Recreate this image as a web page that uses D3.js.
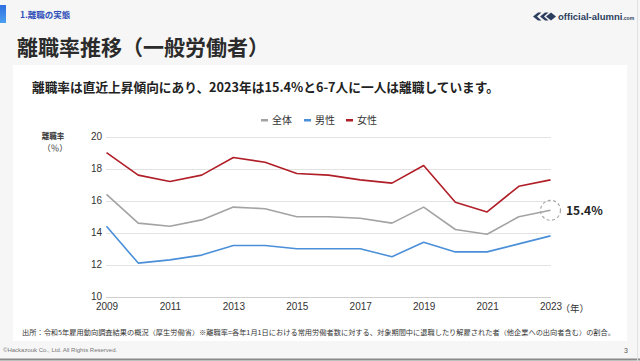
<!DOCTYPE html>
<html>
<head>
<meta charset="utf-8">
<script src="https://cdn.jsdelivr.net/npm/d3@7"></script>
<style>
body { margin: 0; background: #fff; }
svg { display: block; }
.jp { font-family: "Noto Sans CJK JP", "Noto Sans", sans-serif; }
.num { font-family: "Liberation Sans", Arial, sans-serif; }
</style>
</head>
<body>
<svg id="chart" width="640" height="361"></svg>
<script>
var years = [2009, 2010, 2011, 2012, 2013, 2014, 2015, 2016, 2017, 2018, 2019, 2020, 2021, 2022, 2023];
var zentai = [16.4, 14.6, 14.4, 14.8, 15.6, 15.5, 15.0, 15.0, 14.9, 14.6, 15.6, 14.2, 13.9, 15.0, 15.4];
var dansei = [14.4, 12.1, 12.3, 12.6, 13.2, 13.2, 13.0, 13.0, 13.0, 12.5, 13.4, 12.8, 12.8, 13.3, 13.8];
var josei = [19.0, 17.6, 17.2, 17.6, 18.7, 18.4, 17.7, 17.6, 17.3, 17.1, 18.2, 15.9, 15.3, 16.9, 17.3];
var yTicks = [10, 12, 14, 16, 18, 20];
var xTicks = [2009, 2011, 2013, 2015, 2017, 2019, 2021, 2023];

var series = [
    {name: "全体", values: zentai, color: "#a3a3a3"},
    {name: "男性", values: dansei, color: "#4a8fd8"},
    {name: "女性", values: josei, color: "#b01e28"}
];

var svg = d3.select("#chart");

// slide background + card
svg.append("rect").attr("width", 640).attr("height", 361).attr("fill", "#f6f6f6");
svg.append("rect").attr("x", 13).attr("y", 65).attr("width", 614).attr("height", 276).attr("fill", "#ffffff");
svg.append("line").attr("x1", 0).attr("x2", 640).attr("y1", 359.5).attr("y2", 359.5)
    .attr("stroke", "#8a8a8a").attr("stroke-width", 2);
svg.append("line").attr("x1", 637.5).attr("x2", 637.5).attr("y1", 0).attr("y2", 361)
    .attr("stroke", "#e2e2e2");

// header
var grad = svg.append("defs").append("linearGradient").attr("id", "bar").attr("x1", 0).attr("y1", 0).attr("x2", 0).attr("y2", 1);
grad.append("stop").attr("offset", "0%").attr("stop-color", "#2f6fe0");
grad.append("stop").attr("offset", "100%").attr("stop-color", "#4aa0f0");
svg.append("rect").attr("x", 0).attr("y", 5).attr("width", 6).attr("height", 18).attr("fill", "url(#bar)");

svg.append("text").attr("class", "jp").attr("x", 20).attr("y", 18)
    .attr("font-size", 8.5).attr("font-weight", "bold").attr("fill", "#2e4fb8")
    .text("1.離職の実態");

svg.append("text").attr("class", "jp").attr("x", 17).attr("y", 55)
    .attr("font-size", 21).attr("font-weight", "bold").attr("fill", "#2b2b2b")
    .text("離職率推移（一般労働者）");

// logo (two chevrons and a diamond)
var logo = svg.append("g").attr("fill", "#2c3e5e");
[533, 540].forEach(function(px) {
    logo.append("path").attr("d", "M" + (px + 5) + ",12.5 L" + px + ",16.5 L" + (px + 5) + ",20.5 L" + (px + 8.5) + ",20.5 L" + (px + 4) + ",16.5 L" + (px + 8.5) + ",12.5 Z");
});
logo.append("path").attr("d", "M546,16.5 L551,12.5 L556,16.5 L551,20.5 Z");
svg.append("text").attr("class", "num").attr("x", 558).attr("y", 20)
    .attr("font-size", 9.5).attr("font-weight", "bold").attr("fill", "#2c3e5e")
    .text("official-alumni")
    .append("tspan").attr("font-size", 5).text(".com");

// subtitle
svg.append("text").attr("class", "jp").attr("x", 32).attr("y", 92)
    .attr("font-size", 12.7).attr("font-weight", "bold").attr("fill", "#222")
    .text("離職率は直近上昇傾向にあり、2023年は15.4%と6-7人に一人は離職しています。");

// scales
var x = d3.scaleLinear().domain([2009, 2023]).range([106.5, 550.5]);
var y = d3.scaleLinear().domain([10, 20]).range([296.7, 136.7]);

// grid
svg.append("g").selectAll("line").data(yTicks).enter().append("line")
    .attr("x1", 106).attr("x2", 551)
    .attr("y1", function(d) { return Math.round(y(d)) + 0.5; })
    .attr("y2", function(d) { return Math.round(y(d)) + 0.5; })
    .attr("stroke", function(d) { return d == 10 ? "#cfcfcf" : "#e3e3e3"; })
    .attr("stroke-width", 1);

var yAxis = svg.append("g").attr("transform", "translate(102,0)")
    .call(d3.axisLeft(y).tickValues(yTicks).tickSize(0).tickPadding(0));
yAxis.select(".domain").remove();
yAxis.selectAll("text").attr("class", "num").attr("font-size", 10).attr("fill", "#333");

var xAxis = svg.append("g").attr("transform", "translate(0,300)")
    .call(d3.axisBottom(x).tickValues(xTicks).tickFormat(d3.format("d")).tickSize(0).tickPadding(3));
xAxis.select(".domain").remove();
xAxis.selectAll("text").attr("class", "num").attr("font-size", 10).attr("fill", "#333");

svg.append("text").attr("class", "jp").attr("x", x(2023) + 10).attr("y", 312)
    .attr("font-size", 9.5).attr("fill", "#333").text("（年）");

// y label
svg.append("text").attr("class", "jp").attr("x", 53).attr("y", 139)
    .attr("text-anchor", "middle").attr("font-size", 7.5).attr("font-weight", "bold").attr("fill", "#333")
    .text("離職率");
svg.append("text").attr("class", "jp").attr("x", 55).attr("y", 151)
    .attr("text-anchor", "middle").attr("font-size", 8.5).attr("fill", "#333")
    .text("（％）");

// lines
var line = d3.line()
    .x(function(d, i) { return x(years[i]); })
    .y(function(d) { return y(d); });

series.forEach(function(s) {
    svg.append("path")
        .datum(s.values)
        .attr("d", line)
        .attr("fill", "none")
        .attr("stroke", s.color)
        .attr("stroke-width", 1.6)
        .attr("stroke-linejoin", "round");
});

// callout on last value
var last = zentai[zentai.length - 1];
svg.append("circle").attr("cx", x(2023)).attr("cy", y(last)).attr("r", 10)
    .attr("fill", "none").attr("stroke", "#a8a8a8").attr("stroke-width", 1.2)
    .attr("stroke-dasharray", "3,2.5");
svg.append("text").attr("class", "jp").attr("x", 566).attr("y", y(last) + 4.5)
    .attr("font-size", 12).attr("font-weight", "bold").attr("fill", "#222")
    .text(last.toFixed(1) + "%");

// legend
var legendX = [261, 304, 346];
series.forEach(function(s, i) {
    svg.append("rect").attr("x", legendX[i]).attr("y", 119).attr("width", 7).attr("height", 2.5).attr("fill", s.color);
    svg.append("text").attr("class", "jp").attr("x", legendX[i] + 11).attr("y", 124)
        .attr("font-size", 10).attr("fill", "#333").text(s.name);
});

// source + footer
svg.append("text").attr("class", "jp").attr("x", 22).attr("y", 335)
    .attr("font-size", 6.7).attr("fill", "#333")
    .attr("textLength", 593).attr("lengthAdjust", "spacingAndGlyphs")
    .text("出所：令和5年雇用動向調査結果の概況（厚生労働省）※離職率=各年1月1日における常用労働者数に対する、対象期間中に退職したり解雇された者（他企業への出向者含む）の割合。");

svg.append("text").attr("class", "num").attr("x", 3).attr("y", 352)
    .attr("font-size", 6).attr("fill", "#777")
    .text("©Hackazouk Co., Ltd. All Rights Reserved.");
svg.append("text").attr("class", "num").attr("x", 624).attr("y", 353)
    .attr("font-size", 7).attr("fill", "#555").text("3");
</script>
</body>
</html>
